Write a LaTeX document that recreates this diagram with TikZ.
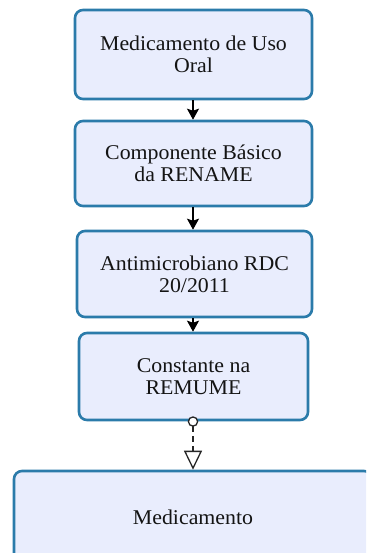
\documentclass[tikz,border=0pt]{standalone}
\usepackage{fontspec}
\setmainfont[FakeStretch=1.04]{Liberation Serif}
\usetikzlibrary{arrows.meta}
\definecolor{boxfill}{HTML}{E9EDFD}
\definecolor{boxline}{HTML}{2B7BAA}
\begin{document}
\begin{tikzpicture}[x=1pt,y=-1pt,
  flowbox/.style={draw=boxline, line width=2.6pt, fill=boxfill, rounded corners=8pt,
    align=center, inner sep=0pt, font=\fontsize{21}{22}\selectfont, text=black!92},
  flowarrow/.style={draw=black, line width=1.3pt, -{Stealth[length=11pt,width=12pt,inset=2pt]}},
  dasharrow/.style={draw=black!85, line width=1.3pt, dash pattern=on 6pt off 4pt,
    {Circle[open,length=10.5pt,width=10.5pt,fill=white,line width=1.3pt]}-{Triangle[open,length=19pt,width=18pt,fill=white,line width=1.3pt]}}
]
\useasboundingbox (0,0) rectangle (366,553);
\begin{scope}
\clip (0,0) rectangle (366,553);
\node[flowbox, minimum width=237pt, minimum height=89pt] (b1) at (193.5,54.5) {Medicamento de Uso\\Oral};
\node[flowbox, minimum width=237pt, minimum height=85pt] (b2) at (193.5,163.5) {Componente Básico\\da RENAME};
\node[flowbox, minimum width=235pt, minimum height=86pt] (b3) at (194.5,274) {Antimicrobiano RDC\\20/2011};
\node[flowbox, minimum width=229pt, minimum height=87pt] (b4) at (193.5,376.5) {Constante na\\REMUME};
\node[flowbox, minimum width=358pt, minimum height=92pt] (b5) at (193,517) {Medicamento};
\end{scope}
\draw[flowarrow] (b1.south -| 193,0) -- (b2.north -| 193,0);
\draw[flowarrow] (b2.south -| 193,0) -- (b3.north -| 193,0);
\draw[flowarrow] (b3.south -| 193,0) -- (b4.north -| 193,0);
\draw[dasharrow] ([yshift=5pt]b4.south -| 193,0) -- (b5.north -| 193,0);
\end{tikzpicture}
\end{document}
